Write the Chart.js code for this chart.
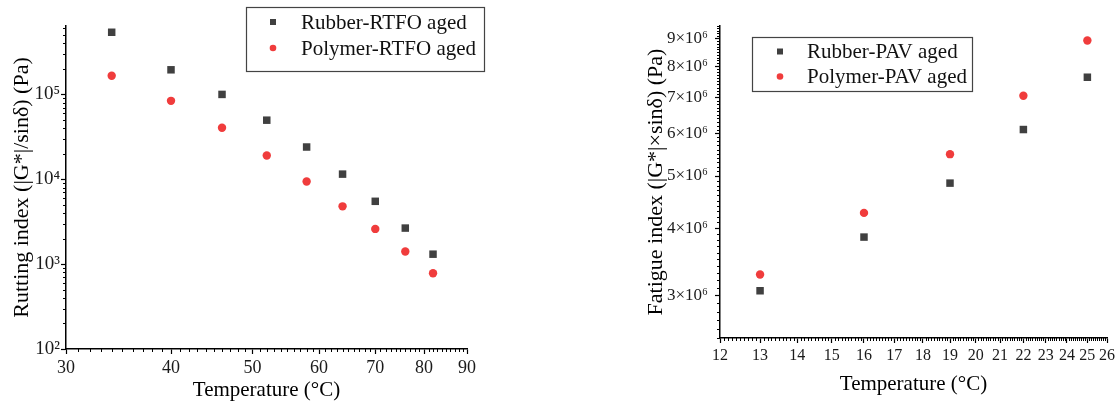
<!DOCTYPE html>
<html>
<head>
<meta charset="utf-8">
<script src="https://cdn.jsdelivr.net/npm/chart.js@4.4.1/dist/chart.umd.min.js"></script>
<style>
html, body { margin: 0; padding: 0; background: #fff; }
#wrap { position: relative; width: 1118px; height: 403px; }
#rutting { position: absolute; left: 0; top: 0; }
#fatigue { position: absolute; left: 620px; top: 0; }
</style>
</head>
<body>
<div id="wrap">
  <canvas id="rutting" width="500" height="403"></canvas>
  <canvas id="fatigue" width="498" height="403"></canvas>
</div>
<script>
// left panel: RTFO aged, rutting index
var rtfoTemps = [34, 40, 46, 52, 58, 64, 70, 76, 82];
var rubberRtfo = [540000, 195000, 100000, 49700, 24000, 11500, 5500, 2660, 1310];
var polymerRtfo = [166000, 84000, 40500, 19100, 9400, 4800, 2600, 1410, 780];
var rtfoXTicks = [30, 40, 50, 60, 70, 80, 90];
var rtfoYTicks = [100, 1000, 10000, 100000];
var rtfoYLabels = ['10\u00b2', '10\u00b3', '10\u2074', '10\u2075'];

// right panel: PAV aged, fatigue index
var pavTemps = [13, 16, 19, 22, 25];
var rubberPav = [3060000, 3850000, 4850000, 6100000, 7630000];
var polymerPav = [3280000, 4270000, 5490000, 7050000, 8930000];
var pavXTicks = [12, 13, 14, 15, 16, 17, 18, 19, 20, 21, 22, 23, 24, 25, 26];
var pavYTicks = [3e6, 4e6, 5e6, 6e6, 7e6, 8e6, 9e6];
var pavYLabels = ['3\u00d710\u2076', '4\u00d710\u2076', '5\u00d710\u2076', '6\u00d710\u2076', '7\u00d710\u2076', '8\u00d710\u2076', '9\u00d710\u2076'];

var serif = "'Liberation Serif', 'Times New Roman', serif";
var rubberColor = '#404040';
var polymerColor = '#f03c3c';

// minor tick positions (axis decoration only)
function rtfoMinorX() { var a = []; for (var v = 31; v < 90; v++) if (v % 10) a.push(v); return a; }
function rtfoMinorY() { var a = []; [100, 1000, 10000, 100000].forEach(function (d) { for (var k = 2; k <= 9; k++) if (d * k < 640000) a.push(d * k); }); return a; }
function pavMinorX() { var a = []; for (var i = 121; i < 260; i++) if (i % 10) a.push(i / 10); return a; }
function pavMinorY() { var a = []; for (var i = 25; i <= 95; i++) if (i % 10) a.push(i * 1e5); return a; }

var extrasPlugin = {
  id: 'extras',
  afterDraw: function (chart, args, opts) {
    var ctx = chart.ctx;
    var xs = chart.scales.x, ys = chart.scales.y;
    ctx.save();
    ctx.strokeStyle = '#000';
    ctx.lineWidth = 1;
    opts.xMinor.forEach(function (v) {
      var px = Math.round(xs.getPixelForValue(v)) + 0.5;
      ctx.beginPath(); ctx.moveTo(px, xs.top); ctx.lineTo(px, xs.top + 3); ctx.stroke();
    });
    opts.yMinor.forEach(function (v) {
      var py = Math.round(ys.getPixelForValue(v)) + 0.5;
      ctx.beginPath(); ctx.moveTo(ys.right, py); ctx.lineTo(ys.right - 3, py); ctx.stroke();
    });
    // legend box
    var lg = opts.legend;
    ctx.strokeStyle = '#444';
    ctx.lineWidth = 1.2;
    ctx.strokeRect(lg.x, lg.y, lg.w, lg.h);
    ctx.font = lg.font + 'px ' + serif;
    ctx.textBaseline = 'middle';
    chart.data.datasets.forEach(function (ds, i) {
      var cy = lg.rows[i];
      ctx.fillStyle = ds.backgroundColor;
      if (ds.pointStyle === 'rect') {
        ctx.fillRect(lg.markX - 3, cy - 3, 6, 6);
      } else {
        ctx.beginPath(); ctx.arc(lg.markX, cy, 3.3, 0, Math.PI * 2); ctx.fill();
      }
      ctx.fillStyle = '#111';
      ctx.fillText(ds.label, lg.textX, cy + 1);
    });
    ctx.restore();
  }
};

function makeChart(id, cfg) {
  return new Chart(document.getElementById(id).getContext('2d'), {
    type: 'scatter',
    data: {
      datasets: [{
        label: cfg.labels[0],
        data: cfg.xs.map(function (x, i) { return { x: x, y: cfg.rubber[i] }; }),
        pointStyle: 'rect', pointRadius: 5.3, backgroundColor: rubberColor, borderWidth: 0
      }, {
        label: cfg.labels[1],
        data: cfg.xs.map(function (x, i) { return { x: x, y: cfg.polymer[i] }; }),
        pointStyle: 'circle', pointRadius: 4.2, backgroundColor: polymerColor, borderWidth: 0
      }]
    },
    options: {
      responsive: false,
      animation: false,
      layout: { padding: cfg.padding },
      plugins: {
        legend: { display: false },
        tooltip: { enabled: false },
        extras: cfg.extras
      },
      scales: {
        x: {
          type: 'logarithmic',
          min: cfg.xMin, max: cfg.xMax,
          afterBuildTicks: function (s) { s.ticks = cfg.xTicks.map(function (v) { return { value: v }; }); },
          afterFit: function (s) { s.height = cfg.xHeight; },
          ticks: {
            autoSkip: false, maxRotation: 0, padding: cfg.xPad, color: '#1a1a1a',
            font: { family: serif, size: cfg.xTickSize },
            callback: function (v) { return String(v); }
          },
          grid: { drawOnChartArea: false, drawTicks: true, tickLength: 5, tickColor: '#000', tickWidth: 1.2 },
          border: { display: true, color: '#000', width: 1.5 },
          title: { display: true, text: 'Temperature (\u00b0C)', color: '#000', font: { family: serif, size: 21 }, padding: { top: 0, bottom: cfg.xTitlePad } }
        },
        y: {
          type: 'logarithmic',
          min: cfg.yMin, max: cfg.yMax,
          afterBuildTicks: function (s) { s.ticks = cfg.yTicks.map(function (v) { return { value: v }; }); },
          afterFit: function (s) { s.width = cfg.yWidth; },
          ticks: {
            autoSkip: false, padding: cfg.yPad, color: '#1a1a1a',
            font: { family: serif, size: cfg.yTickSize },
            callback: function (v) { var i = cfg.yTicks.indexOf(v); return i >= 0 ? cfg.yLabels[i] : ''; }
          },
          grid: { drawOnChartArea: false, drawTicks: true, tickLength: 5, tickColor: '#000', tickWidth: 1.2 },
          border: { display: true, color: '#000', width: 1.5 },
          title: { display: true, text: cfg.yTitle, color: '#000', font: { family: serif, size: 22 }, padding: { top: cfg.yTitlePad, bottom: 0 } }
        }
      }
    },
    plugins: [extrasPlugin]
  });
}

makeChart('rutting', {
  labels: ['Rubber-RTFO aged', 'Polymer-RTFO aged'],
  xs: rtfoTemps, rubber: rubberRtfo, polymer: polymerRtfo,
  xMin: 30, xMax: 90, yMin: 100, yMax: 640000,
  xTicks: rtfoXTicks, yTicks: rtfoYTicks, yLabels: rtfoYLabels,
  padding: { left: 0, top: 26, right: 33, bottom: 0 },
  xHeight: 54, yWidth: 66, xPad: 3, yPad: 1, xTickSize: 18, yTickSize: 19,
  xTitlePad: 0, yTitlePad: 9,
  yTitle: 'Rutting index (|G*|/sin\u03b4) (Pa)',
  extras: {
    xMinor: rtfoMinorX(), yMinor: rtfoMinorY(),
    legend: { x: 246.5, y: 7.5, w: 238, h: 64, markX: 273, textX: 301, rows: [22, 48], font: 21 }
  }
});

makeChart('fatigue', {
  labels: ['Rubber-PAV aged', 'Polymer-PAV aged'],
  xs: pavTemps, rubber: rubberPav, polymer: polymerPav,
  xMin: 12, xMax: 26, yMin: 2.5e6, yMax: 9.5e6,
  xTicks: pavXTicks, yTicks: pavYTicks, yLabels: pavYLabels,
  padding: { left: 0, top: 26, right: 11, bottom: 0 },
  xHeight: 65, yWidth: 100, xPad: 3, yPad: 7, xTickSize: 16, yTickSize: 17,
  xTitlePad: 6, yTitlePad: 23,
  yTitle: 'Fatigue index (|G*|\u00d7sin\u03b4) (Pa)',
  extras: {
    xMinor: pavMinorX(), yMinor: pavMinorY(),
    legend: { x: 132.5, y: 37.5, w: 220, h: 54, markX: 160, textX: 187, rows: [51.5, 76.5], font: 21 }
  }
});
</script>
</body>
</html>
